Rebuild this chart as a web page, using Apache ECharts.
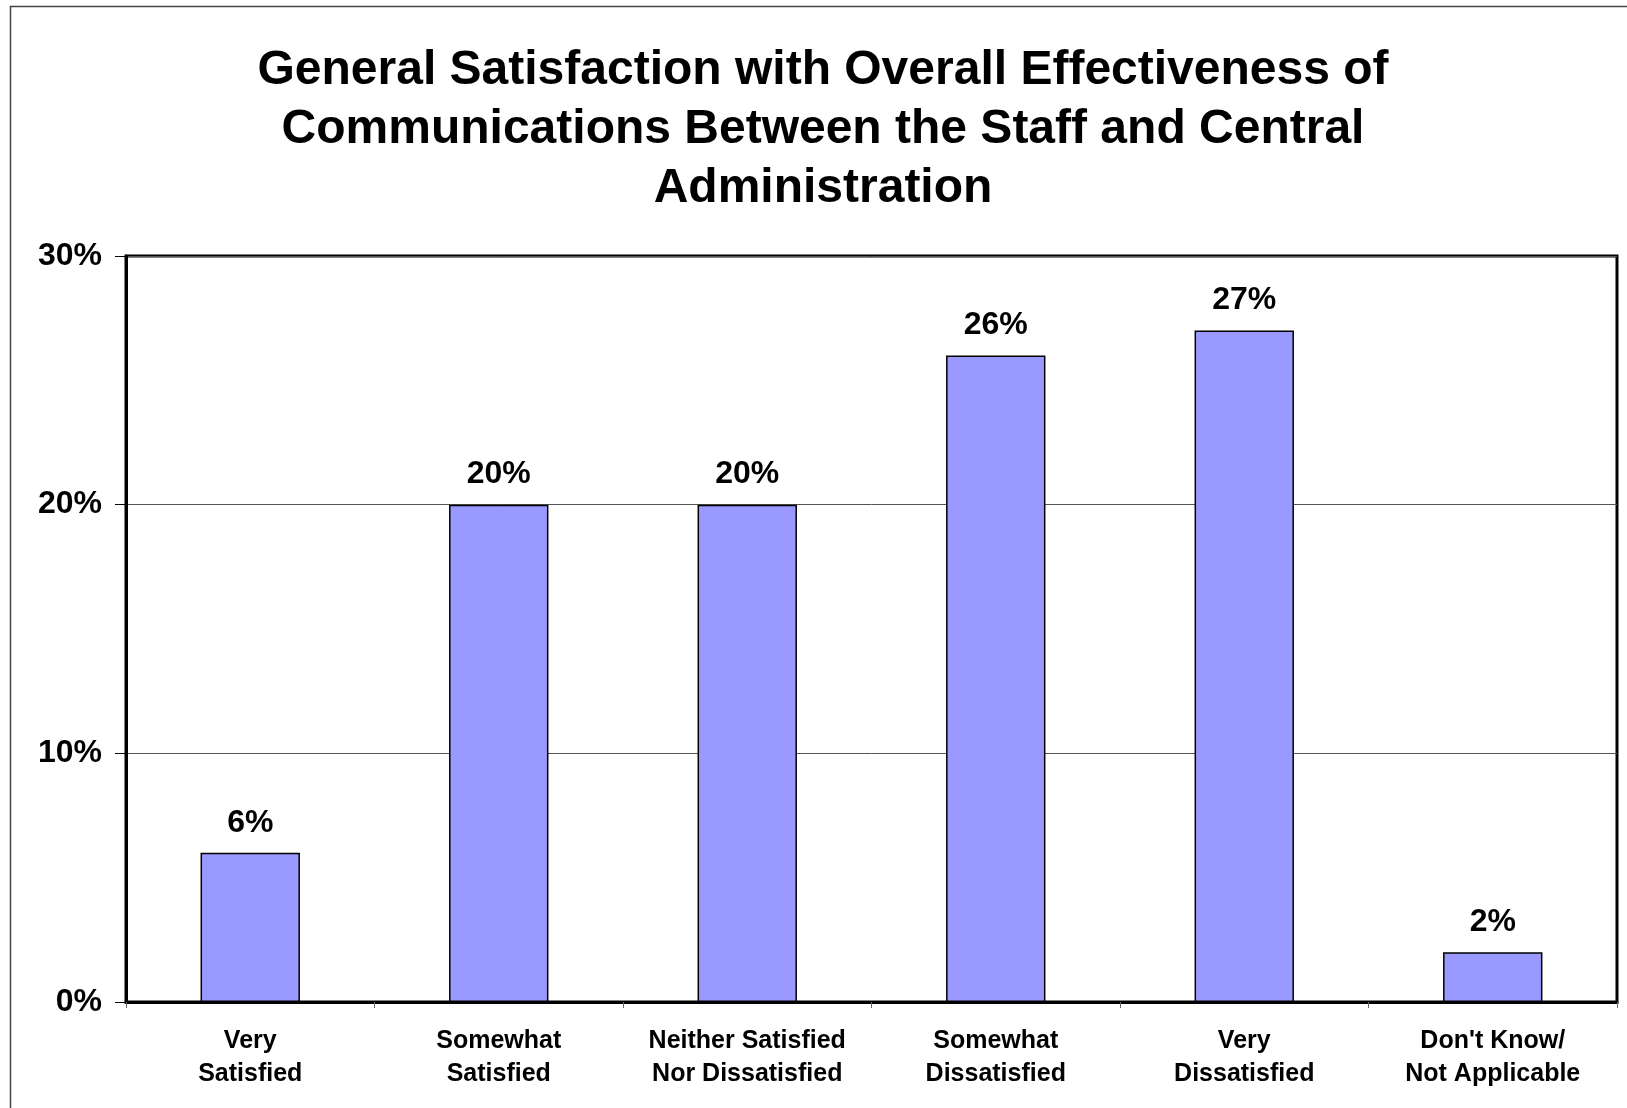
<!DOCTYPE html>
<html lang="en">
<head>
    <meta charset="UTF-8"/>
    <title>General Satisfaction</title>
    <script src="https://cdn.jsdelivr.net/npm/echarts@6/dist/echarts.min.js"></script>
    <style>
        html, body { margin: 0; padding: 0; background: #fff; }
    </style>
</head>
<body>
<div id="main" style="width: 1627px;height: 1108px;"></div>
<script type="text/javascript">
    // data
    var categories = ['Very\nSatisfied', 'Somewhat\nSatisfied', 'Neither Satisfied\nNor Dissatisfied',
        'Somewhat\nDissatisfied', 'Very\nDissatisfied', "Don't Know/\nNot Applicable"];
    var values = [6, 20, 20, 26, 27, 2];
    var yTicks = [0, 10, 20, 30];

    var font = 'Liberation Sans, Arial, sans-serif';
    var myChart = echarts.init(document.getElementById('main'));

    myChart.setOption({
        animation: false,
        title: {
            text: 'General Satisfaction with Overall Effectiveness of\nCommunications Between the Staff and Central\nAdministration',
            left: 818,
            top: 36,
            textAlign: 'center',
            textStyle: {
                fontFamily: font,
                fontWeight: 'bold',
                fontSize: 48,
                lineHeight: 59,
                color: '#000'
            }
        },
        graphic: [{
            type: 'rect',
            shape: { x: 10.5, y: 6.5, width: 1640, height: 1200 },
            style: { fill: 'none', stroke: '#444', lineWidth: 1.5 },
            silent: true
        }],
        grid: {
            left: 126,
            right: 10,
            top: 256,
            bottom: 106,
            show: true,
            borderColor: '#000',
            borderWidth: 3,
            backgroundColor: 'transparent'
        },
        xAxis: {
            type: 'category',
            data: categories,
            axisLine: { lineStyle: { color: '#000', width: 3 } },
            axisTick: { show: true, length: 6, lineStyle: { color: '#666', width: 1 } },
            axisLabel: {
                fontFamily: font,
                fontWeight: 'bold',
                fontSize: 25,
                lineHeight: 33,
                color: '#000',
                margin: 23,
                interval: 0
            }
        },
        yAxis: {
            type: 'value',
            min: yTicks[0],
            max: yTicks[yTicks.length - 1],
            interval: 10,
            axisLine: { show: true, lineStyle: { color: '#000', width: 3 } },
            axisTick: { show: true, length: 11, lineStyle: { color: '#000', width: 1 } },
            splitLine: { show: true, lineStyle: { color: '#555', width: 1 } },
            axisLabel: {
                formatter: '{value}%',
                fontFamily: font,
                fontWeight: 'bold',
                fontSize: 32,
                color: '#000',
                margin: 24
            }
        },
        series: [{
            type: 'bar',
            data: values,
            barWidth: '40%',
            itemStyle: {
                color: '#9999FF',
                borderColor: '#000',
                borderWidth: 1.5
            },
            label: {
                show: true,
                position: 'top',
                distance: 14,
                formatter: '{c}%',
                fontFamily: font,
                fontWeight: 'bold',
                fontSize: 32,
                color: '#000'
            }
        }]
    });
</script>
</body>
</html>
